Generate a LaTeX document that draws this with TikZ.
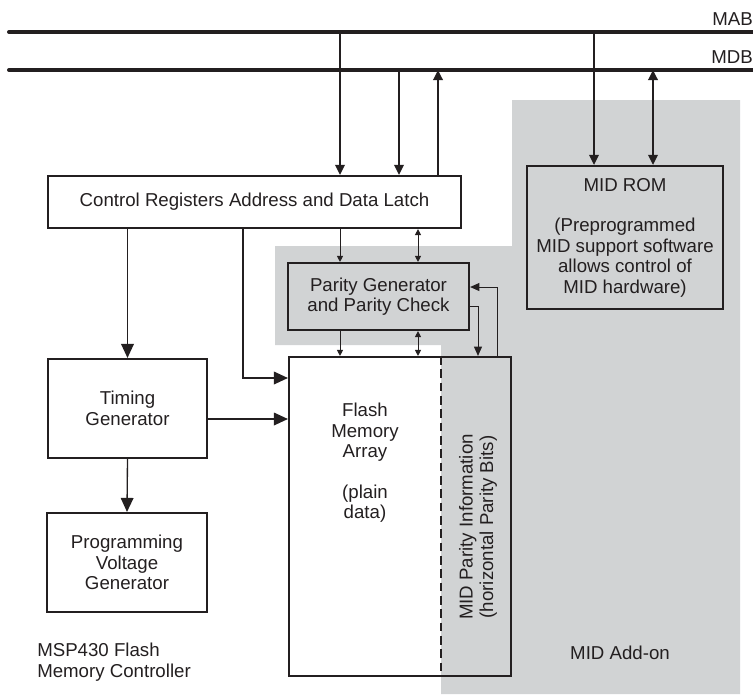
\documentclass[tikz,border=0pt]{standalone}
\usepackage{fontspec}
\setmainfont{Liberation Sans}
\usetikzlibrary{positioning,arrows.meta}
\definecolor{cdark}{HTML}{231F20}
\definecolor{cshade}{HTML}{D1D3D4}

\begin{document}
\begin{tikzpicture}[x=0.75pt,y=-0.75pt,
    font=\fontsize{14}{15.3}\selectfont,color=cdark,
    box/.style={draw=cdark,line width=1.6pt,align=center,inner sep=0pt},
    txt/.style={align=center,inner sep=0pt},
    busline/.style={draw=cdark,line width=3pt,line cap=round},
    busar/.style={draw=cdark,line width=1.7pt,-{Triangle[length=7.5pt,width=7pt]}},
    busdbl/.style={busar,{Triangle[length=7.5pt,width=7pt]}-{Triangle[length=7.5pt,width=7pt]}},
    ar/.style={draw=cdark,line width=1pt,-{Triangle[length=10.5pt,width=9.5pt]}},
    arm/.style={draw=cdark,line width=0.7pt,-{Triangle[length=7pt,width=6pt]}},
    ars/.style={draw=cdark,line width=0.7pt,-{Triangle[length=4.5pt,width=4.5pt]}},
    arsd/.style={ars,{Triangle[length=4.5pt,width=4.5pt]}-{Triangle[length=4.5pt,width=4.5pt]}}]
    \useasboundingbox (0,0) rectangle (753,694);
    % shaded MID add-on area
    \fill[cshade] (512,100) -- (740,100) -- (740,694) -- (441,694) -- (441,345)
      -- (275,345) -- (275,246) -- (512,246) -- cycle;
    % buses
    \coordinate (mabL) at (9,32);
    \coordinate (mabR) at (753,32);
    \coordinate (mdbL) at (9,70);
    \coordinate (mdbR) at (753,70);
    \draw[busline] (mabL) -- (mabR);
    \draw[busline] (mdbL) -- (mdbR);
    \node[txt,anchor=east] (mab) at (753,19) {MAB};
    \node[txt,anchor=east] (mdb) at (753,57) {MDB};
    % columns and rows for the connectors
    \coordinate (c1) at (340,0);
    \coordinate (c2) at (399,0);
    \coordinate (c3) at (438,0);
    \coordinate (c4) at (594,0);
    \coordinate (c5) at (653,0);
    \coordinate (c6) at (418,0);
    \coordinate (c7) at (243,0);
    \coordinate (c8) at (478,0);
    \coordinate (c9) at (497,0);
    \coordinate (c10) at (441,0);
    \coordinate (r1) at (0,306);
    \coordinate (r2) at (0,287);
    \coordinate (r3) at (0,419);
    \coordinate (r4) at (0,378);
    % blocks
    \node[box,minimum width=309.75pt,minimum height=39pt] (latch) at (254.5,202)
      {Control Registers Address and Data Latch};
    \node[box,fill=cshade,minimum width=135.75pt,minimum height=50.25pt] (parity) at (378.5,296.5)
      {Parity Generator\\and Parity Check};
    \node[box,fill=cshade,minimum width=147pt,minimum height=107.25pt] (rom) at (625,237.5)
      {MID ROM\\[15.3pt](Preprogrammed\\MID support software\\allows control of\\MID hardware)};
    \node[box,minimum width=119.25pt,minimum height=74.25pt] (timing) at (127.5,408.5)
      {Timing\\Generator};
    \node[box,minimum width=120pt,minimum height=74.25pt] (prog) at (127,562.5)
      {Programming\\Voltage\\Generator};
    \node[box,minimum width=166.5pt,minimum height=239.25pt] (flash) at (400,516.5) {};
    \draw[cdark,line width=0.8pt,dash pattern=on 6.5pt off 3.5pt] (flash.north -| c10) -- (flash.south -| c10);
    \node[txt] (flashtxt) at (365,463) {Flash\\Memory\\Array\\[15.3pt](plain\\data)};
    \node[txt,rotate=90] (paritytxt) at (478,527) {MID Parity Information\\(horizontal Parity Bits)};
    \node[txt,align=left,anchor=west] (ctrl) at (37,662) {MSP430 Flash\\Memory Controller};
    \node[txt] (addon) at (620,653) {MID Add-on};
    % bus connections
    \draw[busar]  (mabL -| c1) -- (latch.north -| c1);
    \draw[busar]  (mdbL -| c2) -- (latch.north -| c2);
    \draw[busar]  (latch.north -| c3) -- (mdbL -| c3);
    \draw[busar]  (mabL -| c4) -- (rom.north -| c4);
    \draw[busdbl] (mdbL -| c5) -- (rom.north -| c5);
    % controller paths
    \draw[ar] (latch.south -| timing.north) -- (timing.north);
    \draw[ar] (timing.south) -- (prog.north);
    \draw[ar] (timing.east |- r3) -- (flash.west |- r3);
    \draw[ar] (latch.south -| c7) |- (flash.west |- r4);
    % parity paths
    \draw[ars]  (latch.south -| c1) -- (parity.north -| c1);
    \draw[arsd] (latch.south -| c6) -- (parity.north -| c6);
    \draw[ars]  (parity.south -| c1) -- (flash.north -| c1);
    \draw[arsd] (parity.south -| c6) -- (flash.north -| c6);
    \draw[arm]  (parity.east |- r1) -| (flash.north -| c8);
    \draw[arm]  (flash.north -| c9) |- (parity.east |- r2);
  \end{tikzpicture}
\end{document}
